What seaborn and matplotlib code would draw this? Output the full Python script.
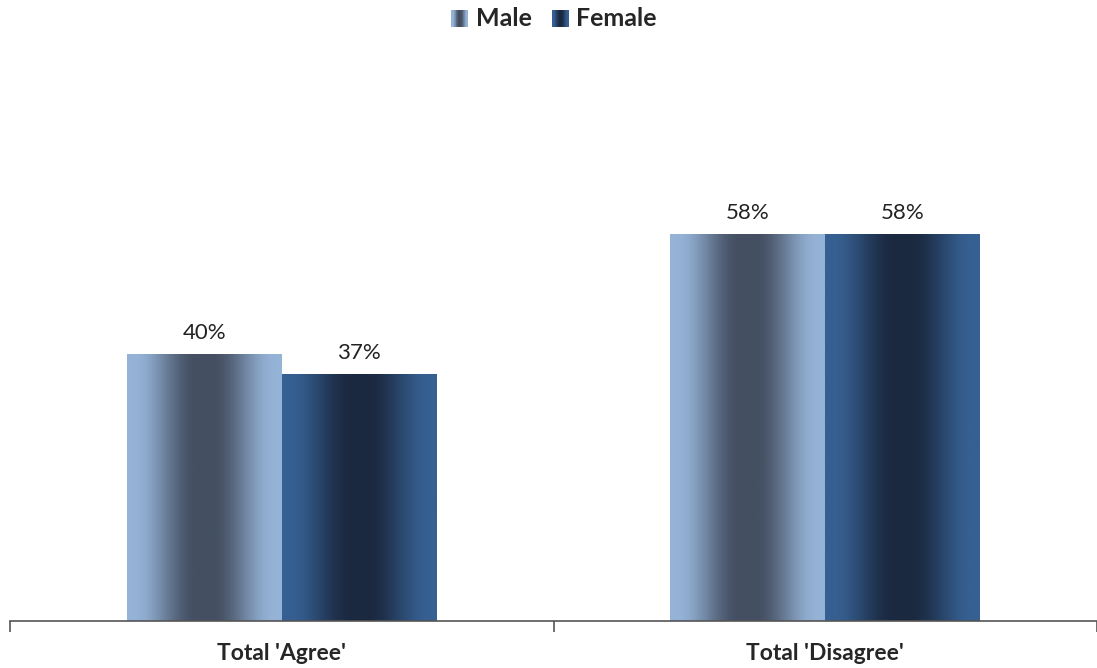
import numpy as np
import pandas as pd
import matplotlib
matplotlib.use('Agg')
import matplotlib.pyplot as plt
import seaborn as sns
from matplotlib.colors import to_rgb
from matplotlib.patches import Rectangle
from matplotlib.legend_handler import HandlerBase

# data
categories = ["Total 'Agree'", "Total 'Disagree'"]
genders = ['Male', 'Female']
male_vals = [40, 58]
female_vals = [37, 58]

df = pd.DataFrame({
    'category': categories * 2,
    'gender': ['Male'] * 2 + ['Female'] * 2,
    'value': male_vals + female_vals,
})

# edge colour, centre colour of the gradient
grad_cols = {'Male': ('#95b3d7', '#444f62'), 'Female': ('#366092', '#1b2940')}

sns.set_style('white')
plt.rcParams['font.family'] = ['Lato', 'DejaVu Sans']

fig = plt.figure(figsize=(10.97, 6.68), dpi=100)
ax = fig.add_axes([10 / 1097, 47 / 668, 1087 / 1097, 581 / 668])

sns.barplot(data=df, x='category', y='value', hue='gender', order=categories,
            hue_order=genders, palette=[grad_cols[g][0] for g in genders],
            width=0.57, linewidth=0, saturation=1, ax=ax)
ax.get_legend().remove()


def profile(n=200):
    t = np.linspace(0, 1, n)
    d = np.abs(t - 0.5)
    s = np.clip((0.46 - d) / 0.41, 0, 1)
    return s * s * (3 - 2 * s)


def grad_img(gender, n=200):
    c0 = np.array(to_rgb(grad_cols[gender][0]))
    c1 = np.array(to_rgb(grad_cols[gender][1]))
    f = profile(n)[:, None]
    return (c0 + (c1 - c0) * f)[None, :, :]


# overlay gradients on bars
for cont, g in zip(ax.containers, genders):
    img = grad_img(g)
    for p in cont.patches:
        x0, y0 = p.get_x(), p.get_y()
        w, h = p.get_width(), p.get_height()
        im = ax.imshow(img, extent=[x0, x0 + w, y0, y0 + h], aspect='auto',
                       zorder=p.get_zorder() + 0.1, interpolation='bilinear')
        im.set_clip_path(p)
        ax.annotate(f'{h:.0f}%', (x0 + w / 2, y0 + h), xytext=(0, 8),
                    textcoords='offset points', ha='center', va='bottom',
                    fontsize=16, color='#222222')

ax.set_xlim(-0.5, 1.5)
ax.set_ylim(0, 87)
ax.set_xlabel('')
ax.set_ylabel('')
ax.set_yticks([])
for s in ['top', 'right', 'left']:
    ax.spines[s].set_visible(False)
ax.spines['bottom'].set_color('#555555')
ax.spines['bottom'].set_linewidth(1.2)
ax.set_xticks([0, 1])
ax.set_xticklabels(categories, fontsize=16.5, fontweight='bold')
ax.tick_params(axis='x', which='major', length=0, pad=16)
ax.set_xticks([-0.5, 0.5, 1.5], minor=True)
ax.tick_params(axis='x', which='minor', bottom=True, length=8, width=1.2,
               color='#555555', direction='out')


class GradHandler(HandlerBase):
    def create_artists(self, legend, orig_handle, xdescent, ydescent,
                       width, height, fontsize, trans):
        g = orig_handle.get_label()
        img = grad_img(g, 24)[0]
        side = height * 0.95
        x0 = -xdescent + width - side
        arts = []
        for i, c in enumerate(img):
            arts.append(Rectangle((x0 + i * side / 24, -ydescent), side / 24 + 0.05,
                                  side, facecolor=c, edgecolor='none',
                                  transform=trans))
        return arts


handles = [Rectangle((0, 0), 1, 1, label=g) for g in genders]
fig.legend(handles=handles, labels=genders, loc='center', ncol=2,
           bbox_to_anchor=(555 / 1097, 1 - 19 / 668), frameon=False,
           handler_map={Rectangle: GradHandler()},
           prop={'weight': 'bold', 'size': 18}, handlelength=0.6,
           handletextpad=0.3, columnspacing=0.9)

fig.savefig('out.png', dpi=100)
